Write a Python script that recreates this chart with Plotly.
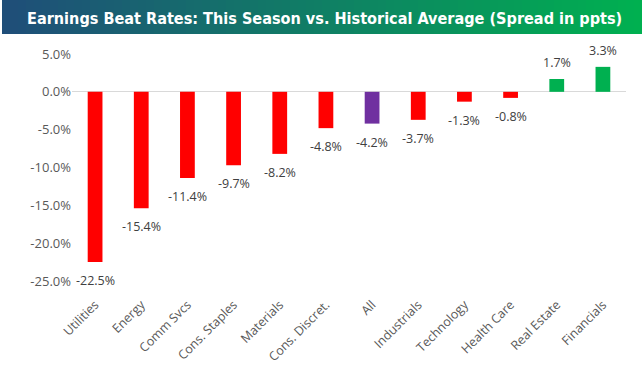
import plotly.graph_objects as go

categories = ["Utilities", "Energy", "Comm Svcs", "Cons. Staples", "Materials", "Cons. Discret.",
              "All", "Industrials", "Technology", "Health Care", "Real Estate", "Financials"]
spread = [-22.5, -15.4, -11.4, -9.7, -8.2, -4.8, -4.2, -3.7, -1.3, -0.8, 1.7, 3.3]
tick_vals = [5, 0, -5, -10, -15, -20, -25]
tick_labels = ["5.0%", "0.0%", "-5.0%", "-10.0%", "-15.0%", "-20.0%", "-25.0%"]
title_text = "Earnings Beat Rates: This Season vs. Historical Average (Spread in ppts)"

colors = []
for c, v in zip(categories, spread):
    if c == "All":
        colors.append("#7030A0")
    elif v < 0:
        colors.append("#FF0000")
    else:
        colors.append("#00B050")

labels = [f"{v:.1f}%" for v in spread]

fig = go.Figure(go.Bar(
    x=categories, y=spread, marker_color=colors, marker_line_width=0,
    hoverinfo="skip",
))

annotations = []
for c, v, lab in zip(categories, spread, labels):
    annotations.append(dict(
        x=c, y=v, xref="x", yref="y", text=lab, showarrow=False,
        yanchor="top" if v < 0 else "bottom",
        yshift=-8 if v < 0 else 6,
        font=dict(family="Open Sans", size=12.5, color="#404040"),
    ))

# gradient title bar
shapes = []
n = 80
x0, x1 = 2, 642
c0 = (0x1F, 0x4E, 0x79)
c1 = (0x00, 0xB0, 0x50)
for i in range(n):
    t = i / (n - 1)
    col = tuple(round(a + (b - a) * t) for a, b in zip(c0, c1))
    xa = x0 + (x1 - x0) * i / n
    xb = x0 + (x1 - x0) * (i + 1) / n + 0.6
    shapes.append(dict(type="rect", xref="paper", yref="paper",
                       x0=(xa - 72) / 554, x1=(xb - 72) / 554,
                       y0=(281 - 0) / 227, y1=(281 - 34) / 227,
                       fillcolor="rgb(%d,%d,%d)" % col, line_width=0, layer="below"))

annotations.append(dict(text=f"<b>{title_text}</b>", xref="paper", yref="paper",
                        x=(25 - 72) / 554, y=(281 - 18) / 227, xanchor="left", yanchor="middle",
                        showarrow=False,
                        font=dict(family="DejaVu Sans Condensed", size=16.1, color="white")))

fig.update_layout(
    width=642, height=379,
    margin=dict(l=72, r=16, t=54, b=98),
    paper_bgcolor="white", plot_bgcolor="white",
    bargap=0.68, showlegend=False,
    shapes=shapes, annotations=annotations,
    font=dict(family="Open Sans", size=12, color="#595959"),
)
fig.update_xaxes(tickangle=-45, showgrid=False, showline=False, ticks="", automargin=False,
                 ticklabelstandoff=13,
                 tickfont=dict(family="Open Sans", size=12.5, color="#595959"))
fig.update_yaxes(range=[-25, 5], tickvals=tick_vals, ticktext=tick_labels, automargin=False,
                 showgrid=False, zeroline=True, zerolinecolor="#D9D9D9", zerolinewidth=1,
                 showline=False, ticks="",
                 tickfont=dict(family="Open Sans", size=13, color="#595959"))

fig.write_html("out.html", config={"displayModeBar": False},
               post_script="document.body.style.margin='0';")
